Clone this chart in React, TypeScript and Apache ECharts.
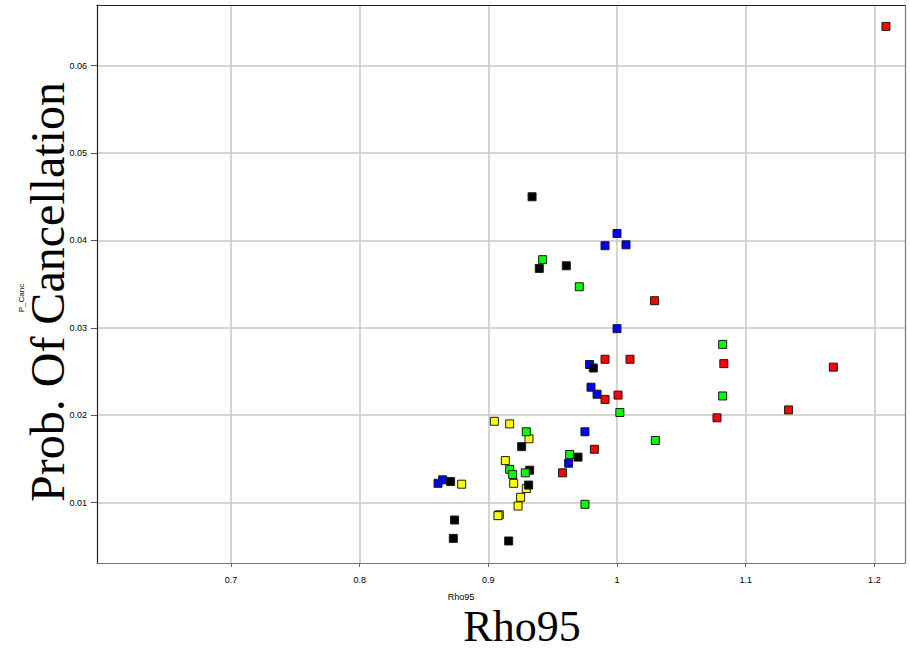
import React, { useEffect, useRef } from "react";
import * as echarts from "echarts";

// Axis tick labels
const xTickValues = [0.7, 0.8, 0.9, 1.0, 1.1, 1.2];
const yTickValues = [0.01, 0.02, 0.03, 0.04, 0.05, 0.06];

// Axis extents
const xMin = 0.5959;
const xMax = 1.2238;
const yMin = 0.00308;
const yMax = 0.06695;

// Series values: [Rho95, P_Canc]
const yellowPoints = [
  [0.9047, 0.0193],
  [0.9166, 0.019],
  [0.9316, 0.0173],
  [0.9132, 0.0148],
  [0.8793, 0.0121],
  [0.9197, 0.0122],
  [0.9295, 0.0116],
  [0.9251, 0.0106],
  [0.9231, 0.0096],
  [0.9085, 0.0086],
  [0.9075, 0.0085],
];

const bluePoints = [
  [1.0, 0.0408],
  [0.9907, 0.0394],
  [1.007, 0.0395],
  [1.0, 0.0299],
  [0.9787, 0.0258],
  [0.9798, 0.0232],
  [0.9845, 0.0224],
  [0.9751, 0.0181],
  [0.9624, 0.0145],
  [0.8609, 0.0122],
  [0.8645, 0.0126],
];

const blackPoints = [
  [0.934, 0.045],
  [0.9396, 0.0368],
  [0.9606, 0.0371],
  [0.9816, 0.0254],
  [0.9259, 0.0164],
  [0.9697, 0.0152],
  [0.9321, 0.0137],
  [0.9313, 0.012],
  [0.8707, 0.0124],
  [0.8738, 0.008],
  [0.8728, 0.0059],
  [0.9158, 0.0056],
];

const redPoints = [
  [1.209, 0.0645],
  [1.0292, 0.0331],
  [0.9907, 0.0264],
  [1.0101, 0.0264],
  [1.083, 0.0259],
  [1.1681, 0.0255],
  [1.0008, 0.0223],
  [0.9907, 0.0218],
  [1.1333, 0.0206],
  [1.0777, 0.0197],
  [0.9824, 0.0161],
  [0.9577, 0.0134],
];

const greenPoints = [
  [0.9422, 0.0378],
  [0.9707, 0.0347],
  [1.0821, 0.0281],
  [1.0821, 0.0222],
  [1.0022, 0.0203],
  [1.0298, 0.0171],
  [0.9295, 0.0181],
  [0.9632, 0.0155],
  [0.9166, 0.0138],
  [0.9189, 0.0132],
  [0.9287, 0.0134],
  [0.9751, 0.0098],
];

const seriesList = [
  { name: "yellow", color: "#ffff00", data: yellowPoints },
  { name: "blue", color: "#0000ff", data: bluePoints },
  { name: "black", color: "#000000", data: blackPoints },
  { name: "red", color: "#ff0000", data: redPoints },
  { name: "green", color: "#00ff00", data: greenPoints },
];

export default function App() {
  const ref = useRef<HTMLDivElement>(null);

  useEffect(() => {
    if (!ref.current) return;
    const chart = echarts.init(ref.current, null, { renderer: "svg" });
    const labelFont = {
      fontFamily: "Liberation Sans, Arial, sans-serif",
      fontSize: 9,
      color: "#000",
    };
    chart.setOption({
      animation: false,
      backgroundColor: "#ffffff",
      grid: { left: 97, right: 5, top: 5, bottom: 86, containLabel: false },
      xAxis: [
        {
          type: "value",
          min: xMin,
          max: xMax,
          splitNumber: 6,
          axisLine: { show: true, onZero: false, lineStyle: { color: "#777", width: 1.2 } },
          axisTick: {
            show: true,
            length: 4,
            customValues: xTickValues,
            lineStyle: { color: "#666", width: 1 },
          },
          axisLabel: { ...labelFont, margin: 12, customValues: xTickValues },
          splitLine: { show: true, lineStyle: { color: "#c8c8c1", width: 1.5 } },
        },
        {
          type: "value",
          position: "top",
          min: xMin,
          max: xMax,
          axisLine: { show: true, onZero: false, lineStyle: { color: "#222", width: 1.2 } },
          axisTick: { show: false },
          axisLabel: { show: false },
          splitLine: { show: false },
        },
      ],
      yAxis: [
        {
          type: "value",
          min: yMin,
          max: yMax,
          splitNumber: 6,
          axisLine: { show: true, onZero: false, lineStyle: { color: "#222", width: 1.2 } },
          axisTick: {
            show: true,
            length: 6,
            customValues: yTickValues,
            lineStyle: { color: "#555", width: 1 },
          },
          axisLabel: { ...labelFont, margin: 10, customValues: yTickValues },
          splitLine: { show: true, lineStyle: { color: "#c8c8c1", width: 1.5 } },
        },
        {
          type: "value",
          position: "right",
          min: yMin,
          max: yMax,
          axisLine: { show: true, onZero: false, lineStyle: { color: "#777", width: 1.2 } },
          axisTick: { show: false },
          axisLabel: { show: false },
          splitLine: { show: false },
        },
      ],
      series: seriesList.map((s) => ({
        name: s.name,
        type: "scatter",
        xAxisIndex: 0,
        yAxisIndex: 0,
        symbol: "rect",
        symbolSize: 8,
        data: s.data,
        itemStyle: { color: s.color, borderColor: "#1a1a1a", borderWidth: 1, opacity: 1 },
        emphasis: { disabled: true },
      })),
      graphic: [
        {
          type: "text",
          x: 47,
          y: 292,
          rotation: Math.PI / 2,
          style: {
            text: "Prob. Of Cancellation",
            font: "48px 'Liberation Serif', 'Times New Roman', serif",
            fill: "#000",
            textAlign: "center",
            textVerticalAlign: "middle",
          },
        },
        {
          type: "text",
          x: 522,
          y: 626,
          style: {
            text: "Rho95",
            font: "44px 'Liberation Serif', 'Times New Roman', serif",
            fill: "#000",
            textAlign: "center",
            textVerticalAlign: "middle",
          },
        },
        {
          type: "text",
          x: 21,
          y: 298,
          rotation: Math.PI / 2,
          style: {
            text: "P_Canc",
            font: "8px 'Liberation Sans', Arial, sans-serif",
            fill: "#000",
            textAlign: "center",
            textVerticalAlign: "middle",
          },
        },
        {
          type: "text",
          x: 461,
          y: 597,
          style: {
            text: "Rho95",
            font: "9px 'Liberation Sans', Arial, sans-serif",
            fill: "#000",
            textAlign: "center",
            textVerticalAlign: "middle",
          },
        },
      ],
    });
    return () => {
      chart.dispose();
    };
  }, []);

  return (
    <div
      ref={ref}
      style={{ position: "absolute", left: 0, top: 0, width: 910, height: 649, background: "#fff" }}
    />
  );
}
